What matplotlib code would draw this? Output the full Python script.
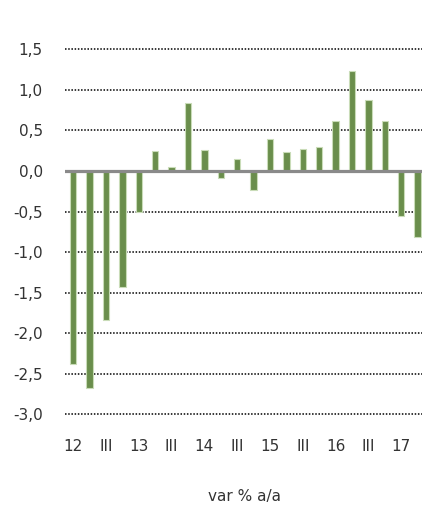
import matplotlib.pyplot as plt
import numpy as np

# trimestri 2012 Q1 - 2017 Q2
VALUES = [-2.38, -2.67, -1.84, -1.43, -0.51, 0.24, 0.05, 0.84, 0.26, -0.09, 0.15,
          -0.235, 0.39, 0.235, 0.275, 0.30, 0.62, 1.23, 0.88, 0.61, -0.56, -0.82]
XLABELS = ["12", "III", "13", "III", "14", "III", "15", "III", "16", "III", "17"]
YTICKS = [1.5, 1.0, 0.5, 0.0, -0.5, -1.0, -1.5, -2.0, -2.5, -3.0]
XLABEL = "var % a/a"

BAR_COLOR = "#6a8e4c"
EDGE_COLOR = "#c9dcb8"

fig = plt.figure(figsize=(4.22, 5.08), dpi=100)
ax = fig.add_axes([0.154, 0.1844, 0.855, 0.7186])

x = np.arange(len(VALUES))
ax.bar(x, VALUES, width=0.4, color=BAR_COLOR, edgecolor=EDGE_COLOR,
       linewidth=0.8, zorder=3)

for y in YTICKS:
    if y == 0:
        continue
    ax.axhline(y, color="black", linestyle=(0, (1, 1.1)), linewidth=1.1,
               zorder=1, clip_on=False)
ax.axhline(0, color="#8a8a8a", linewidth=2.3, zorder=4)

ax.set_xlim(-0.5, len(VALUES) - 0.5)
ax.set_ylim(-3.0, 1.5)
ax.set_yticks(YTICKS)
ax.set_yticklabels([f"{v:.1f}".replace(".", ",") for v in YTICKS],
                   fontsize=11, color="#333333")
ax.set_xticks(x[::2])
ax.set_xticklabels(XLABELS, fontsize=11, color="#333333")
ax.tick_params(length=0)
ax.tick_params(axis="x", pad=18)
ax.tick_params(axis="y", pad=16)
for s in ax.spines.values():
    s.set_visible(False)

fig.text(0.58, 0.0217, XLABEL, ha="center", va="center", fontsize=11,
         color="#333333")

fig.savefig("out.png", dpi=100)
